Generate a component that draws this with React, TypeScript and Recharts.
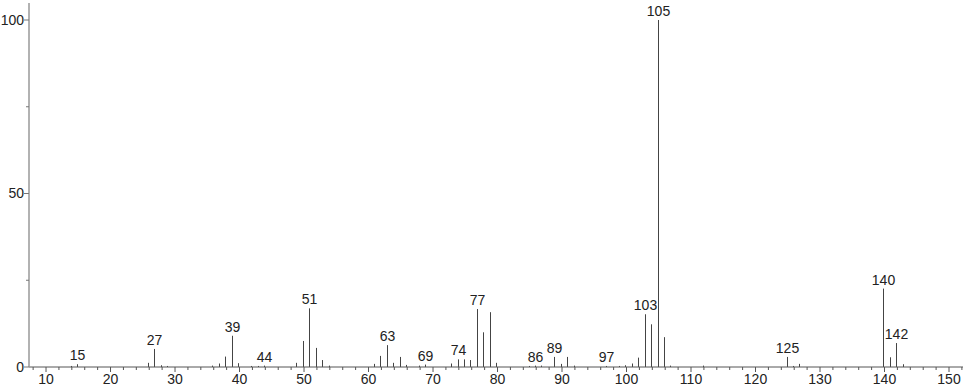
import { BarChart, Bar, XAxis, YAxis, LabelList } from "recharts"

// m/z values and relative intensities (%)
const masses = [
  14, 15, 26, 27, 28, 29, 36, 37, 38, 39, 40, 42, 43, 44, 49, 50, 51, 52, 53, 54,
  61, 62, 63, 64, 65, 66, 68, 69, 73, 74, 75, 76, 77, 78, 79, 80, 85, 86, 87, 89,
  90, 91, 92, 97, 99, 100, 101, 102, 103, 104, 105, 106, 107, 112, 125, 126, 127,
  140, 141, 142, 143,
]
const intensities = [
  0.3, 0.8, 1.2, 5.2, 0.5, 0.3, 0.4, 1.0, 3.0, 9.0, 1.1, 0.3, 0.3, 0.4, 1.2, 7.5, 16.9, 5.5, 2.0, 0.4,
  0.9, 3.2, 6.3, 1.2, 2.9, 0.6, 0.4, 0.7, 1.0, 2.2, 2.2, 2.0, 16.7, 10.0, 15.8, 1.2, 0.3, 0.4, 0.4, 2.9,
  0.9, 2.9, 0.4, 0.3, 0.3, 0.5, 1.0, 2.7, 15.2, 12.3, 100, 8.6, 0.4, 0.4, 2.9, 0.3, 0.9,
  22.6, 2.8, 6.9, 0.8,
]
// peaks that get a mass label
const labeledMasses = [15, 27, 39, 44, 51, 63, 69, 74, 77, 86, 89, 97, 103, 105, 125, 140, 142]

const xTicks = [
  8, 10, 12, 14, 16, 18, 20, 22, 24, 26, 28, 30, 32, 34, 36, 38, 40, 42, 44, 46, 48, 50,
  52, 54, 56, 58, 60, 62, 64, 66, 68, 70, 72, 74, 76, 78, 80, 82, 84, 86, 88, 90, 92, 94,
  96, 98, 100, 102, 104, 106, 108, 110, 112, 114, 116, 118, 120, 122, 124, 126, 128, 130,
  132, 134, 136, 138, 140, 142, 144, 146, 148, 150, 152,
]
const yTicks = [0, 25, 50, 75, 100]

const font = "'Liberation Sans', Arial, sans-serif"

const XTick = (props: any) => {
  const { x, y, payload } = props
  const major = payload.value % 10 === 0
  return (
    <g>
      <line x1={x} x2={x} y1={y} y2={y + (major ? 5 : 3)} stroke="#555" />
      {major && (
        <text x={x} y={y + 17} textAnchor="middle" fontSize={14} fill="#222" fontFamily={font}>
          {payload.value}
        </text>
      )}
    </g>
  )
}

const YTick = (props: any) => {
  const { x, y, payload } = props
  const major = payload.value % 50 === 0
  return (
    <g>
      <line x1={x - (major ? 5 : 3)} x2={x} y1={y} y2={y} stroke="#777" />
      {major && (
        <text x={x - 5} y={y} dy="0.35em" textAnchor="end" fontSize={14} fill="#222" fontFamily={font}>
          {payload.value}
        </text>
      )}
    </g>
  )
}

// thin stick for each peak
const PeakShape = (props: any) => {
  const { x, y, width, height } = props
  const cx = Math.floor(x + width / 2) - 0.5
  return <line x1={cx} x2={cx} y1={y} y2={y + height} stroke="#444" strokeWidth={1} />
}

const PeakLabel = (props: any) => {
  const { x, y, width, value } = props
  if (value == null) return null
  const cx = Math.floor(x + width / 2) - 0.5
  return (
    <text x={cx} y={y - 4} textAnchor="middle" fontSize={14} fill="#222" fontFamily={font}>
      {value}
    </text>
  )
}

export default function App() {
  const data = masses.map((mz, i) => ({
    mz,
    intensity: intensities[i],
    label: labeledMasses.includes(mz) ? String(mz) : undefined,
  }))

  return (
    <div style={{ position: "absolute", left: 0, top: 0, width: 966, height: 389, background: "#fff" }}>
      <BarChart width={966} height={389} data={data} margin={{ top: 3, right: 3, left: 0, bottom: 0 }}>
        <XAxis
          type="number"
          dataKey="mz"
          domain={[7.36, 152.17]}
          ticks={xTicks}
          interval={0}
          allowDataOverflow
          height={22}
          stroke="#555"
          tickSize={0}
          tickMargin={0}
          tickLine={false}
          tick={<XTick />}
        />
        <YAxis
          type="number"
          domain={[0, 104.9]}
          ticks={yTicks}
          interval={0}
          allowDataOverflow
          width={29}
          stroke="#999"
          strokeWidth={1.5}
          tickSize={0}
          tickMargin={0}
          tickLine={false}
          tick={<YTick />}
        />
        <Bar dataKey="intensity" barSize={1} shape={<PeakShape />} isAnimationActive={false}>
          <LabelList dataKey="label" content={<PeakLabel />} />
        </Bar>
      </BarChart>
    </div>
  )
}
